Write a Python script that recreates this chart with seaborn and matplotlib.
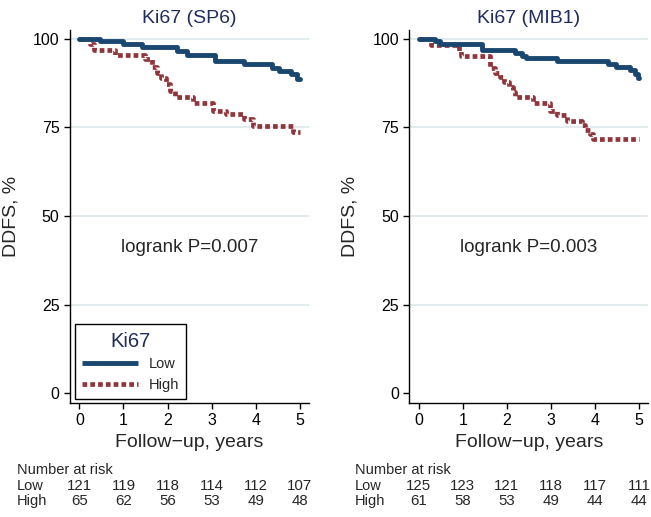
import numpy as np
import pandas as pd
import matplotlib
matplotlib.use("Agg")
import matplotlib.pyplot as plt
import matplotlib.transforms as mtransforms
from matplotlib.lines import Line2D
import seaborn as sns

# ---------------- data ----------------
sp6_low_t = [0, 0.47, 1.00, 1.41, 2.22, 2.45, 3.07, 3.73, 4.36, 4.52, 4.79, 4.94, 5.0]
sp6_low_s = [100, 99.2, 98.4, 97.6, 96.4, 95.3, 93.8, 92.7, 91.7, 90.8, 89.9, 88.6, 88.6]
sp6_high_t = [0, 0.25, 0.33, 0.81, 1.49, 1.64, 1.75, 1.86, 1.96, 2.05, 2.17, 2.58,
              3.02, 3.32, 3.72, 3.94, 4.85, 5.0]
sp6_high_s = [100, 98.5, 96.9, 95.3, 94.1, 91.9, 90.3, 88.8, 87.2, 85.3, 83.4, 81.8,
              79.7, 78.7, 77.3, 75.3, 73.6, 73.6]

mib1_low_t = [0, 0.38, 0.48, 1.44, 2.19, 2.34, 2.44, 3.13, 4.30, 4.48, 4.78, 4.91, 4.98, 5.0]
mib1_low_s = [100, 99.25, 98.5, 96.9, 95.9, 95.0, 94.4, 93.6, 92.7, 91.9, 91.0, 90.1, 89.0, 89.0]
mib1_high_t = [0, 0.27, 0.91, 0.96, 1.62, 1.74, 1.85, 1.94, 2.04, 2.13, 2.19, 2.60,
               2.98, 3.13, 3.36, 3.70, 3.78, 3.89, 3.96, 5.0]
mib1_high_s = [100, 98.3, 96.6, 95.0, 91.7, 90.3, 89.2, 87.8, 86.4, 85.0, 83.5, 81.8,
               79.7, 78.5, 76.9, 75.5, 74.1, 73.2, 71.8, 71.8]

panel_titles = ["Ki67 (SP6)", "Ki67 (MIB1)"]
logrank_texts = ["logrank P=0.007", "logrank P=0.003"]
risk_times = [0, 1, 2, 3, 4, 5]
sp6_risk_low = [121, 119, 118, 114, 112, 107]
sp6_risk_high = [65, 62, 56, 53, 49, 48]
mib1_risk_low = [125, 123, 121, 118, 117, 111]
mib1_risk_high = [61, 58, 53, 49, 44, 44]
group_labels = ["Low", "High"]
x_ticks = [0, 1, 2, 3, 4, 5]
y_ticks = [0, 25, 50, 75, 100]

# ---------------- style ----------------
sns.set_style("ticks")
plt.rcParams["font.family"] = ["Liberation Sans", "DejaVu Sans"]
plt.rcParams["axes.unicode_minus"] = True

BLUE = "#1a476f"
RED = "#90353b"
NAVY = "#1f2d5c"
GRID = "#dde9ec"
DOTS = (0, (1, 0.65))

W, H = 651, 517
fig = plt.figure(figsize=(W / 100, H / 100), dpi=100)

ax_w = 239 / W
ax_h = 373 / H
ax_b = (H - 402.7) / H
axes = [fig.add_axes([70 / W, ax_b, ax_w, ax_h]),
        fig.add_axes([409.3 / W, ax_b, ax_w, ax_h])]

panels = [
    (sp6_low_t, sp6_low_s, sp6_high_t, sp6_high_s, sp6_risk_low, sp6_risk_high),
    (mib1_low_t, mib1_low_s, mib1_high_t, mib1_high_s, mib1_risk_low, mib1_risk_high),
]

ROW0, ROW1, ROW2 = 474.0, 490.5, 505.0

for i, (ax, (lt, ls, ht, hs, rl, rh)) in enumerate(zip(axes, panels)):
    for yt in y_ticks[1:]:
        ax.axhline(yt, color=GRID, lw=1.2, zorder=0)
    dlow = pd.DataFrame({"t": lt, "s": ls})
    dhigh = pd.DataFrame({"t": ht, "s": hs})
    sns.lineplot(data=dlow, x="t", y="s", ax=ax, color=BLUE, lw=3.5,
                 drawstyle="steps-post", estimator=None, sort=False,
                 solid_capstyle="round", solid_joinstyle="round", zorder=3)
    sns.lineplot(data=dhigh, x="t", y="s", ax=ax, color=RED, lw=3.4,
                 drawstyle="steps-post", estimator=None, sort=False,
                 linestyle=DOTS, zorder=2)

    ax.set_xlim(-0.211, 5.204)
    ax.set_ylim(-2.65, 102.5)
    ax.set_xticks(x_ticks)
    ax.set_yticks(y_ticks)
    ax.tick_params(axis="both", direction="out", length=4, width=1, pad=3.5,
                   labelsize=11.5, colors="black")
    sns.despine(ax=ax)
    for sp in ["left", "bottom"]:
        ax.spines[sp].set_color("black")
        ax.spines[sp].set_linewidth(1.0)

    ax.set_xlabel("Follow\u2212up, years", fontsize=14, labelpad=4)
    ax.set_ylabel("DDFS, %", fontsize=14, labelpad=10)
    ax.set_title(panel_titles[i], fontsize=14, color=NAVY, pad=4.6)
    ax.text(2.5, 41, logrank_texts[i], ha="center", va="center", fontsize=13.5)

    # number at risk table
    trans = mtransforms.blended_transform_factory(ax.transData, fig.transFigure)
    x0 = (16.7 if i == 0 else 355) / W
    fig.text(x0, 1 - ROW0 / H, "Number at risk", fontsize=10.5, va="baseline")
    fig.text(x0, 1 - ROW1 / H, group_labels[0], fontsize=10.5, va="baseline")
    fig.text(x0, 1 - ROW2 / H, group_labels[1], fontsize=10.5, va="baseline")
    for t, a, b in zip(risk_times, rl, rh):
        ax.text(t, 1 - ROW1 / H, str(a), transform=trans, ha="center",
                va="baseline", fontsize=10.8)
        ax.text(t, 1 - ROW2 / H, str(b), transform=trans, ha="center",
                va="baseline", fontsize=10.8)

handles = [Line2D([], [], color=BLUE, lw=3.5, solid_capstyle="butt"),
           Line2D([], [], color=RED, lw=3.4, linestyle=DOTS)]
leg = axes[0].legend(handles, group_labels, title="Ki67", loc="lower left",
                     bbox_to_anchor=(0.021, 0.01), borderaxespad=0,
                     fontsize=10.5, title_fontsize=14.5, handlelength=3.8,
                     handletextpad=0.75, labelspacing=0.45, borderpad=0.5,
                     fancybox=False, framealpha=1, edgecolor="black")
leg.get_title().set_color(NAVY)
leg.get_frame().set_linewidth(1.0)
leg.set_zorder(5)

fig.savefig("out.png", dpi=100)
